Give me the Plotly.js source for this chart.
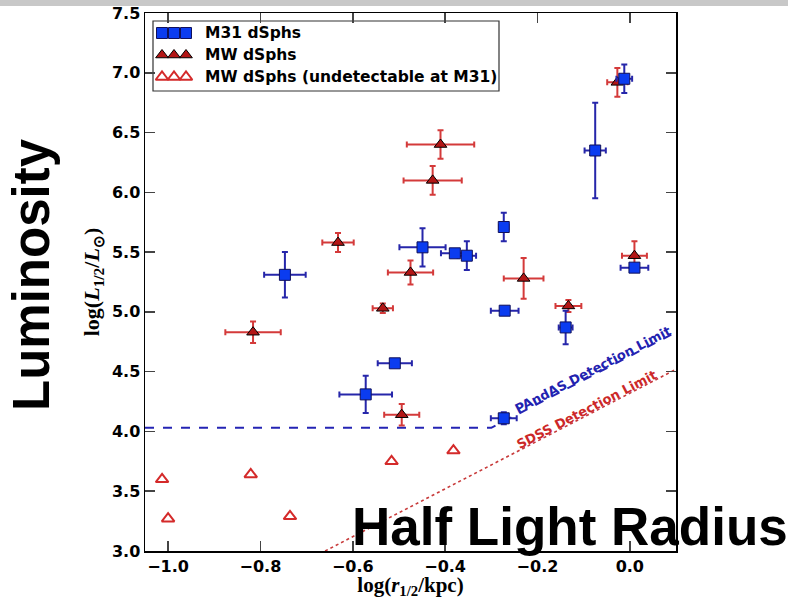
<!DOCTYPE html>
<html>
<head>
<meta charset="utf-8">
<script src="https://cdn.plot.ly/plotly-3.0.1.min.js"></script>
<style>
  html, body { margin: 0; padding: 0; background: #ffffff; }
  #chart { width: 788px; height: 599px; }
</style>
</head>
<body>
<div id="chart"></div>
<script>
// M31 dwarf spheroidals: log half-light radius (kpc) vs log half-light luminosity
var m31X    = [-0.012, -0.075, -0.273, -0.449, -0.379, -0.353, 0.010, -0.747, -0.271, -0.139, -0.509, -0.572, -0.273];
var m31Y    = [6.95, 6.35, 5.71, 5.54, 5.49, 5.47, 5.37, 5.31, 5.01, 4.87, 4.57, 4.31, 4.11];
var m31XErr = [0.017, 0.023, 0.010, 0.050, 0.030, 0.020, 0.030, 0.045, 0.030, 0.015, 0.037, 0.057, 0.028];
var m31YErr = [0.12, 0.40, 0.12, 0.16, 0.02, 0.12, 0.03, 0.19, 0.03, 0.14, 0.03, 0.155, 0.05];

// Milky Way dwarf spheroidals
var mwX    = [-0.027, -0.410, -0.427, -0.632, -0.475, -0.230, 0.010, -0.133, -0.535, -0.816, -0.494];
var mwY    = [6.92, 6.40, 6.10, 5.58, 5.33, 5.28, 5.47, 5.05, 5.03, 4.83, 4.14];
var mwXErr = [0.022, 0.073, 0.063, 0.034, 0.049, 0.043, 0.027, 0.028, 0.022, 0.060, 0.038];
var mwYErr = [0.12, 0.12, 0.12, 0.08, 0.10, 0.17, 0.12, 0.05, 0.04, 0.09, 0.09];

// Milky Way dwarfs too faint to be found at the distance of M31
var mwFaintX = [-1.013, -1.000, -0.821, -0.736, -0.516, -0.382];
var mwFaintY = [3.60, 3.27, 3.64, 3.29, 3.75, 3.84];

// Survey detection limits
var pandasX = [-1.05, -0.30, 0.10];
var pandasY = [4.03, 4.03, 4.83];
var sdssX = [-0.66, 0.10];
var sdssY = [3.00, 4.52];

var xTicks = [-1.0, -0.8, -0.6, -0.4, -0.2, 0.0];
var yTicks = [3.0, 3.5, 4.0, 4.5, 5.0, 5.5, 6.0, 6.5, 7.0, 7.5];

var legendLabels = ['M31 dSphs', 'MW dSphs', 'MW dSphs (undetectable at M31)'];

// plot-area geometry in pixels
var W = 788, H = 599;
var M = { l: 145, r: 112, t: 13, b: 48 };
var plotW = W - M.l - M.r, plotH = H - M.t - M.b;
function px(p) { return (p - M.l) / plotW; }
function py(p) { return (H - M.b - p) / plotH; }

var blue = '#0b3cf0', blueEdge = '#10105a', blueBar = '#2626aa';
var red = '#b31616', redBar = '#d43a3a', redOpen = '#d42a2a';

var traces = [
  {
    x: pandasX, y: pandasY, type: 'scatter', mode: 'lines',
    line: { color: '#2424b4', width: 2, dash: 'dash' },
    showlegend: false, hoverinfo: 'skip'
  },
  {
    x: sdssX, y: sdssY, type: 'scatter', mode: 'lines',
    line: { color: '#c83a3a', width: 1.6, dash: 'dot' },
    showlegend: false, hoverinfo: 'skip'
  },
  {
    x: mwFaintX, y: mwFaintY, type: 'scatter', mode: 'markers',
    marker: { symbol: 'triangle-up', size: 11, color: '#ffffff', line: { color: redOpen, width: 2 } },
    showlegend: false
  },
  {
    x: mwX, y: mwY, type: 'scatter', mode: 'markers',
    error_x: { type: 'data', array: mwXErr, visible: true, color: redBar, thickness: 2, width: 3 },
    error_y: { type: 'data', array: mwYErr, visible: true, color: redBar, thickness: 2, width: 3 },
    marker: { symbol: 'triangle-up', size: 11, color: red, line: { color: '#000000', width: 1 } },
    showlegend: false
  },
  {
    x: m31X, y: m31Y, type: 'scatter', mode: 'markers',
    error_x: { type: 'data', array: m31XErr, visible: true, color: blueBar, thickness: 2, width: 3 },
    error_y: { type: 'data', array: m31YErr, visible: true, color: blueBar, thickness: 2, width: 3 },
    marker: { symbol: 'square', size: 11, color: blue, line: { color: blueEdge, width: 1 } },
    showlegend: false
  }
];

// legend drawn as a boxed key with three markers per entry
var legRowsPx = [33, 55, 77];
var legMarkPx = [162, 174, 186];
var legendStyles = [
  { symbol: 'square', size: 11, color: blue, line: { color: blueEdge, width: 1 } },
  { symbol: 'triangle-up', size: 11, color: red, line: { color: '#000000', width: 1 } },
  { symbol: 'triangle-up', size: 11, color: '#ffffff', line: { color: redOpen, width: 2 } }
];
legendLabels.forEach(function (lab, i) {
  traces.push({
    x: legMarkPx.map(px), y: legMarkPx.map(function () { return py(legRowsPx[i]); }),
    xaxis: 'x2', yaxis: 'y2', type: 'scatter', mode: 'markers',
    marker: legendStyles[i], showlegend: false, hoverinfo: 'skip', cliponaxis: false
  });
});

var tickFont = { family: 'DejaVu Sans', size: 16, color: '#000000', weight: 'bold' };

var annotations = legendLabels.map(function (lab, i) {
  return {
    xref: 'paper', yref: 'paper', x: px(203), y: py(legRowsPx[i]),
    xanchor: 'left', yanchor: 'middle', showarrow: false,
    text: '<b>' + lab + '</b>',
    font: { family: 'DejaVu Sans', size: 15.5, color: '#000000' }
  };
});

// slope of the limit lines in screen space
var slopeData = 2.0;
var pxPerX = plotW / (0.10 - (-1.05)), pxPerY = plotH / (7.5 - 3.0);
var ang = Math.atan(slopeData * pxPerY / pxPerX) * 180 / Math.PI;
var off = 5;
var sx = -Math.sin(ang * Math.PI / 180) * off, sy = Math.cos(ang * Math.PI / 180) * off;

annotations.push({
  xref: 'x', yref: 'y', x: -0.074, y: 4.03 + 2.0 * (-0.074 + 0.30),
  xshift: sx, yshift: sy, showarrow: false, textangle: -ang,
  text: '<b>PAndAS Detection Limit</b>',
  font: { family: 'DejaVu Sans', size: 13, color: '#2222b0' }
});
annotations.push({
  xref: 'x', yref: 'y', x: -0.088, y: 3.0 + 2.0 * (-0.088 + 0.66),
  xshift: sx, yshift: sy, showarrow: false, textangle: -ang,
  text: '<b>SDSS Detection Limit</b>',
  font: { family: 'DejaVu Sans', size: 13, color: '#cc2828' }
});

// large captions
annotations.push({
  xref: 'paper', yref: 'paper', x: px(31), y: py(275),
  xanchor: 'center', yanchor: 'middle', showarrow: false, textangle: -90,
  text: '<b>Luminosity</b>',
  font: { family: 'Liberation Sans', size: 51, color: '#000000' }
});
annotations.push({
  xref: 'paper', yref: 'paper', x: px(350), y: py(526),
  xanchor: 'left', yanchor: 'middle', showarrow: false,
  text: '<b>Half Light Radius</b>',
  font: { family: 'Liberation Sans', size: 53, color: '#000000' }
});

var shapes = [
  {
    type: 'rect', xref: 'paper', yref: 'paper', layer: 'below',
    x0: px(153), x1: px(499), y0: py(91), y1: py(21),
    fillcolor: '#ffffff', line: { color: '#333333', width: 1.2 }
  },
  {
    type: 'rect', xref: 'paper', yref: 'paper', layer: 'above',
    x0: px(-5), x1: px(W + 5), y0: py(6), y1: py(-5),
    fillcolor: '#c8c8c8', line: { width: 0 }
  }
];

var layout = {
  width: W, height: H,
  margin: M,
  paper_bgcolor: '#ffffff', plot_bgcolor: '#ffffff',
  showlegend: false,
  xaxis: {
    range: [-1.05, 0.10], tickvals: xTicks, tickformat: '.1f',
    ticks: 'inside', ticklen: 10, tickwidth: 1.5, tickcolor: '#444444',
    showline: true, linecolor: '#000000', linewidth: 1.5, mirror: 'ticks',
    showgrid: false, zeroline: false, tickfont: tickFont,
    title: {
      text: '<b>log(<i>r</i><sub>1/2</sub>/kpc)</b>', standoff: 6,
      font: { family: 'Liberation Serif', size: 21, color: '#000000' }
    }
  },
  yaxis: {
    range: [3.0, 7.5], tickvals: yTicks, tickformat: '.1f',
    ticks: 'inside', ticklen: 10, tickwidth: 1.5, tickcolor: '#444444',
    showline: true, linecolor: '#000000', linewidth: 1.5, mirror: 'ticks',
    showgrid: false, zeroline: false, tickfont: tickFont,
    title: {
      text: '<b>log(<i>L</i><sub>1/2</sub>/<i>L</i><sub>⊙</sub>)</b>', standoff: 6,
      font: { family: 'Liberation Serif', size: 22, color: '#000000' }
    }
  },
  xaxis2: { overlaying: 'x', range: [0, 1], visible: false, fixedrange: true },
  yaxis2: { overlaying: 'y', range: [0, 1], visible: false, fixedrange: true },
  annotations: annotations,
  shapes: shapes
};

Plotly.newPlot('chart', traces, layout, { staticPlot: true, displayModeBar: false });
</script>
</body>
</html>
